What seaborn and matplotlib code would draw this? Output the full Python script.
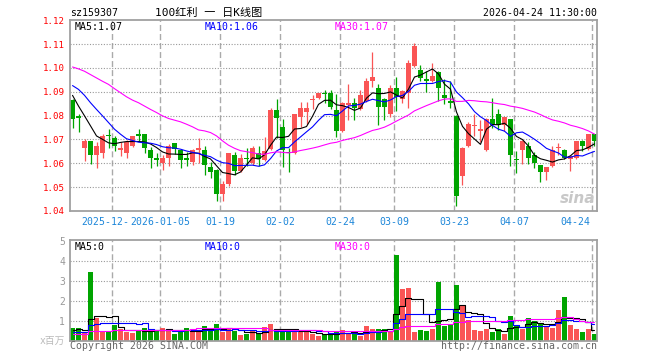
import numpy as np
import pandas as pd
import matplotlib
matplotlib.use("Agg")
import matplotlib.pyplot as plt
import seaborn as sns

# ---------------- data ----------------
opens = [1.0864, 1.0799, 1.0665, 1.0693, 1.0636, 1.0642, 1.0719, 1.0706, 1.0657, 1.0644,
         1.0674, 1.0721, 1.0722, 1.0656, 1.0624, 1.0601, 1.0622, 1.0685, 1.0654, 1.0624,
         1.0604, 1.0657, 1.0656, 1.0585, 1.0574, 1.0472, 1.0514, 1.0635, 1.0567, 1.0624,
         1.0601, 1.0643, 1.0615, 1.0660, 1.0822, 1.0754, 1.0648, 1.0643, 1.0794, 1.0815,
         1.0865, 1.0872, 1.0895, 1.0893, 1.0822, 1.0736, 1.0844, 1.0854, 1.0826, 1.0861,
         1.0944, 1.0914, 1.0871, 1.0805, 1.0914, 1.0868, 1.0896, 1.1007, 1.0993, 1.0955,
         1.0944, 1.0983, 1.0886, 1.0863, 1.0800, 1.0548, 1.0671, 1.0758, 1.0737, 1.0657,
         1.0785, 1.0806, 1.0760, 1.0785, 1.0620, 1.0657, 1.0671, 1.0635, 1.0593, 1.0565,
         1.0588, 1.0664, 1.0657, 1.0618, 1.0621, 1.0694, 1.0660, 1.0722]
highs = [1.0868, 1.0806, 1.0704, 1.0695, 1.0688, 1.0721, 1.0743, 1.0715, 1.0690, 1.0697,
         1.0716, 1.0743, 1.0724, 1.0670, 1.0643, 1.0635, 1.0683, 1.0687, 1.0660, 1.0646,
         1.0658, 1.0706, 1.0671, 1.0604, 1.0576, 1.0524, 1.0645, 1.0646, 1.0640, 1.0663,
         1.0671, 1.0671, 1.0711, 1.0833, 1.0871, 1.0785, 1.0665, 1.0808, 1.0857, 1.0857,
         1.0885, 1.0896, 1.0906, 1.0906, 1.0891, 1.0856, 1.0933, 1.0872, 1.0907, 1.0958,
         1.1067, 1.0933, 1.0873, 1.0928, 1.0961, 1.0906, 1.1035, 1.1104, 1.1014, 1.0986,
         1.1021, 1.0986, 1.0955, 1.0947, 1.0802, 1.0668, 1.0775, 1.0808, 1.0781, 1.0788,
         1.0872, 1.0826, 1.0796, 1.0787, 1.0653, 1.0696, 1.0688, 1.0646, 1.0595, 1.0585,
         1.0671, 1.0685, 1.0659, 1.0631, 1.0694, 1.0696, 1.0725, 1.0725]
lows = [1.0750, 1.0732, 1.0611, 1.0599, 1.0582, 1.0621, 1.0663, 1.0653, 1.0632, 1.0621,
        1.0670, 1.0693, 1.0642, 1.0582, 1.0590, 1.0571, 1.0587, 1.0639, 1.0582, 1.0590,
        1.0593, 1.0601, 1.0552, 1.0540, 1.0440, 1.0440, 1.0505, 1.0549, 1.0563, 1.0588,
        1.0593, 1.0590, 1.0611, 1.0656, 1.0708, 1.0583, 1.0562, 1.0639, 1.0754, 1.0764,
        1.0826, 1.0868, 1.0854, 1.0829, 1.0711, 1.0732, 1.0782, 1.0780, 1.0822, 1.0858,
        1.0919, 1.0761, 1.0780, 1.0794, 1.0819, 1.0854, 1.0833, 1.1005, 1.0944, 1.0900,
        1.0942, 1.0861, 1.0847, 1.0833, 1.0419, 1.0511, 1.0668, 1.0715, 1.0688, 1.0653,
        1.0746, 1.0740, 1.0736, 1.0590, 1.0560, 1.0597, 1.0597, 1.0581, 1.0521, 1.0532,
        1.0586, 1.0635, 1.0618, 1.0569, 1.0618, 1.0653, 1.0657, 1.0671]
closes = [1.0785, 1.0788, 1.0693, 1.0636, 1.0672, 1.0714, 1.0714, 1.0674, 1.0664, 1.0690,
          1.0714, 1.0715, 1.0665, 1.0622, 1.0615, 1.0622, 1.0672, 1.0662, 1.0615, 1.0615,
          1.0656, 1.0665, 1.0593, 1.0563, 1.0472, 1.0514, 1.0643, 1.0567, 1.0622, 1.0620,
          1.0664, 1.0618, 1.0653, 1.0822, 1.0792, 1.0656, 1.0643, 1.0806, 1.0833, 1.0833,
          1.0871, 1.0893, 1.0890, 1.0836, 1.0736, 1.0854, 1.0854, 1.0830, 1.0885, 1.0944,
          1.0964, 1.0836, 1.0836, 1.0917, 1.0878, 1.0903, 1.1021, 1.1090, 1.0958, 1.0944,
          1.0965, 1.0917, 1.0875, 1.0854, 1.0465, 1.0664, 1.0764, 1.0762, 1.0742, 1.0785,
          1.0760, 1.0760, 1.0794, 1.0635, 1.0615, 1.0694, 1.0622, 1.0601, 1.0563, 1.0583,
          1.0657, 1.0668, 1.0621, 1.0629, 1.0692, 1.0671, 1.0722, 1.0694]
# volume, millions
volumes = [0.63, 0.63, 0.45, 3.43, 1.13, 0.47, 0.47, 0.77, 0.57, 0.43,
           0.40, 0.47, 0.63, 0.53, 0.53, 0.63, 0.53, 0.33, 0.53, 0.63,
           0.47, 0.50, 0.73, 0.50, 0.83, 0.43, 0.60, 0.50, 0.30, 0.33,
           0.47, 0.37, 0.67, 0.83, 0.50, 0.50, 0.50, 0.50, 0.50, 0.43,
           0.33, 0.23, 0.30, 0.28, 0.47, 0.53, 0.37, 0.40, 0.23, 0.73,
           0.57, 0.60, 0.60, 0.50, 4.30, 2.60, 2.63, 0.43, 0.53, 0.50,
           0.60, 2.93, 0.73, 0.77, 2.80, 1.73, 1.03, 0.53, 0.50, 0.60,
           0.43, 0.60, 0.33, 1.23, 0.77, 0.60, 1.13, 1.00, 0.83, 0.67,
           0.63, 1.53, 2.17, 0.77, 0.60, 0.43, 0.60, 0.33]

# moving-average values before enough history is on screen
ma5_head = [1.0885, 1.0840, 1.0799, 1.0757]
ma10_head = [1.0926, 1.0910, 1.0885, 1.0854, 1.0826, 1.0799, 1.0771, 1.0743, 1.0722]
ma30_head = [1.1004, 1.0996, 1.0986, 1.0972, 1.0958, 1.0944, 1.0931, 1.0913, 1.0896, 1.0879,
             1.0865, 1.0854, 1.0840, 1.0826, 1.0813, 1.0799, 1.0788, 1.0781, 1.0774, 1.0764,
             1.0753, 1.0740, 1.0736, 1.0729, 1.0715, 1.0694, 1.0676, 1.0663, 1.0653]
vma5_head = [0.55, 0.56, 0.55, 1.10]
vma10_head = [0.43, 0.43, 0.45, 0.78, 0.85, 0.87, 0.87, 0.90, 0.90]
vma30_head = [0.33, 0.33, 0.33, 0.46, 0.46, 0.47, 0.48, 0.52, 0.52, 0.52,
              0.52, 0.52, 0.52, 0.52, 0.52, 0.52, 0.52, 0.52, 0.52, 0.52,
              0.58, 0.63, 0.63, 0.63, 0.63, 0.63, 0.63, 0.63, 0.63]

date_ticks = [7, 15, 25, 35, 45, 54, 64, 74, 87]
# first label is partly hidden behind the second one on the chart
date_labels = ["2025-12-", "2026-01-05", "01-19", "02-02", "02-24",
               "03-09", "03-23", "04-07", "04-24"]
price_ticks = [1.04, 1.05, 1.06, 1.07, 1.08, 1.09, 1.10, 1.11, 1.12]
vol_ticks = [1, 2, 3, 4, 5]


def moving_avg(values, n, head):
    s = pd.Series(values).rolling(n).mean()
    s.iloc[:n - 1] = head
    return s.values


idx = np.arange(len(closes))
o = np.array(opens)
c = np.array(closes)
up = c >= o
RED, GREEN = "#fa5555", "#00a400"
cols = np.where(up, RED, GREEN)

ma5 = moving_avg(closes, 5, ma5_head)
ma10 = moving_avg(closes, 10, ma10_head)
ma30 = moving_avg(closes, 30, ma30_head)
vma5 = moving_avg(volumes, 5, vma5_head)
vma10 = moving_avg(volumes, 10, vma10_head)
vma30 = moving_avg(volumes, 30, vma30_head)

# ---------------- figure ----------------
sns.set_theme(style="white")
plt.rcParams["font.family"] = ["DejaVu Sans Mono", "Noto Sans CJK SC"]

W, H = 660, 360
fig = plt.figure(figsize=(6.6, 3.6), dpi=100)
fig.patch.set_facecolor("white")


def fx(x):
    return x / W


def fy(y):
    return 1 - y / H


ax = fig.add_axes([fx(70), fy(211), fx(527), 191 / H])
axv = fig.add_axes([fx(70), fy(341), fx(527), 101 / H])

for a in (ax, axv):
    a.set_facecolor("white")
    a.set_xlim(-0.42, 87.42)
    for s in a.spines.values():
        s.set_color("#a0a0a0")
        s.set_linewidth(1.3)
    a.set_xticks([])
    for t in date_ticks:
        a.axvline(t - 0.37, color="#aaaaaa", lw=1, ls=(0, (4.3, 2.2)), zorder=0)

# price pane
ax.set_ylim(1.0403, 1.1201)
for p in price_ticks[1:-1]:
    ax.axhline(p, color="#999999", lw=0.8, ls=(0, (1, 1.5)), zorder=0)
ax.vlines(idx, lows, highs, colors=cols, lw=0.9, zorder=2)
body = np.maximum(np.abs(c - o), 0.0004)
ax.bar(idx, body, bottom=np.minimum(o, c), width=0.75, color=cols, lw=0, zorder=2)
sns.lineplot(x=idx, y=ma5, ax=ax, color="black", lw=0.8, zorder=3)
sns.lineplot(x=idx, y=ma10, ax=ax, color="#0000ff", lw=0.8, zorder=3)
sns.lineplot(x=idx, y=ma30, ax=ax, color="#ff00ff", lw=0.8, zorder=3)
ax.set_yticks(price_ticks)
ax.set_yticklabels([f"{p:.2f}" for p in price_ticks], color="#ff0000", fontsize=6.6)
ax.tick_params(axis="y", length=0, pad=3.5)
ax.set_ylabel("")

# volume pane
axv.set_ylim(-0.015, 5.03)
for v in vol_ticks[:-1]:
    axv.axhline(v, color="#999999", lw=0.8, ls=(0, (1, 1.5)), zorder=0)
axv.bar(idx, volumes, width=0.82, color=cols, lw=0, zorder=2)
sns.lineplot(x=idx, y=vma5, ax=axv, color="black", lw=0.8, zorder=3, drawstyle="steps-mid")
sns.lineplot(x=idx, y=vma10, ax=axv, color="#0000ff", lw=0.8, zorder=3, drawstyle="steps-mid")
sns.lineplot(x=idx, y=vma30, ax=axv, color="#ff00ff", lw=0.8, zorder=3, drawstyle="steps-mid")
axv.set_yticks(vol_ticks)
axv.set_yticklabels([str(v) for v in vol_ticks], color="#999999", fontsize=7)
axv.tick_params(axis="y", length=0, pad=3.5)
axv.set_ylabel("")

# date labels
for k, (t, lab) in enumerate(zip(date_ticks, date_labels)):
    x, ha = t - 0.37, "center"
    if k == 0:
        x, ha = 9.4, "right"      # ends where "2026-01-05" begins
    elif k == len(date_ticks) - 1:
        x, ha = 86.25, "right"
    ax.text(x, -0.055, lab, transform=ax.get_xaxis_transform(), ha=ha, va="center",
            color="#1c86d9", fontsize=7.1)

# header
fig.text(fx(70), fy(13), "sz159307", fontsize=7.1, color="black", va="center", ha="left")
fig.text(fx(209), fy(13), "100红利 一 日K线图", fontsize=8, color="black", va="center", ha="center")
fig.text(fx(597), fy(13), "2026-04-24 11:30:00", fontsize=7.1, color="black", va="center", ha="right")

# legends inside panes
fig.text(fx(75), fy(27), "MA5:1.07", fontsize=7.1, color="black", va="center")
fig.text(fx(205), fy(27), "MA10:1.06", fontsize=7.1, color="#0000ff", va="center")
fig.text(fx(335), fy(27), "MA30:1.07", fontsize=7.1, color="#ff00ff", va="center")
fig.text(fx(75), fy(247), "MA5:0", fontsize=7.1, color="black", va="center")
fig.text(fx(205), fy(247), "MA10:0", fontsize=7.1, color="#0000ff", va="center")
fig.text(fx(335), fy(247), "MA30:0", fontsize=7.1, color="#ff00ff", va="center")

# footer
fig.text(fx(65), fy(341), "x百万", fontsize=7, color="#bbbbbb", va="center", ha="right")
fig.text(fx(70), fy(346), "Copyright 2026 SINA.COM", fontsize=7.1, color="#666666", va="center")
fig.text(fx(597), fy(346), "http://finance.sina.com.cn", fontsize=7.1, color="#666666",
         va="center", ha="right")

# watermark
fig.text(fx(578), fy(198), "sina", fontsize=11, color="#c8c8c8", fontweight="bold",
         fontstyle="italic", ha="center", va="center", family="DejaVu Sans", zorder=1)

fig.savefig("out.png", dpi=100, facecolor="white")
